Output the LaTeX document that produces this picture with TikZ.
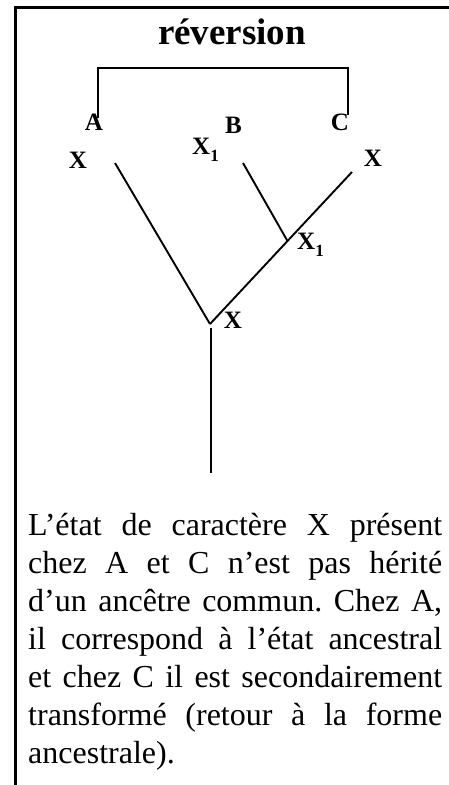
\documentclass[tikz,border=0pt]{standalone}
\usepackage{fontspec}
\setmainfont{Liberation Serif}
\tikzset{
  frameline/.style={line width=2.2pt, line cap=rect},
  branch/.style={line width=1.9pt},
  bracketline/.style={line width=2pt},
  lab/.style={font=\fontsize{25}{25}\selectfont\bfseries, inner sep=0pt},
}
\newcommand{\subone}{\raisebox{-0.28em}{\fontsize{17}{17}\selectfont\bfseries 1}}
\begin{document}
\begin{tikzpicture}[x=1pt,y=-1pt]
\useasboundingbox (0,0) rectangle (449,785);
% frame (top and left edges only)
\coordinate (ftr) at (449,7.5);
\coordinate (ftl) at (15.5,7.5);
\coordinate (fbl) at (15.5,785);
\draw[frameline] (ftr) -- (ftl) -- (fbl);
% title
\node[anchor=base, inner sep=0pt, font=\fontsize{37}{37}\selectfont\bfseries] (title) at (232,44) {réversion};
% taxon labels
\node[lab] (A) at (94,122) {A};
\node[lab] (B) at (233.5,125) {B};
\node[lab] (C) at (340,122) {C};
\node[lab] (XA) at (78,160) {X};
\node[lab, anchor=west] (XB) at (192,150) {X\subone};
\node[lab] (XC) at (373,158) {X};
\node[lab, anchor=west] (XJ) at (297,245) {X\subone};
\node[lab] (XR) at (233,320) {X};
% bracket linking A and C
\coordinate (ba) at (98,118);
\coordinate (bc) at (348,115);
\draw[bracketline] (ba) |- (348,68) -- (bc);
% tree
\coordinate (ta) at (115,163);
\coordinate (tb) at (243,163);
\coordinate (tc) at (352,172);
\coordinate (j1) at (287.5,241);
\coordinate (root) at (210,324);
\coordinate (stemtop) at (211,328);
\coordinate (stembot) at (211,473);
\draw[branch] (ta) -- (root);
\draw[branch] (tc) -- (j1) -- (root);
\draw[branch] (tb) -- (j1);
\draw[branch] (stemtop) -- (stembot);
% description
\node[anchor=base west, inner sep=0pt] (desc) at (28,535) {%
\begin{minipage}[t]{414pt}\fontsize{32}{38}\selectfont\parindent=0pt\frenchspacing
\makebox[\linewidth][s]{L’état de caractère X présent}\\
\makebox[\linewidth][s]{chez A et C n’est pas hérité}\\
\makebox[\linewidth][s]{d’un ancêtre commun. Chez A,}\\
\makebox[\linewidth][s]{il correspond à l’état ancestral}\\
\makebox[\linewidth][s]{et chez C il est secondairement}\\
\makebox[\linewidth][s]{transformé (retour à la forme}\\
ancestrale).
\end{minipage}};
\end{tikzpicture}
\end{document}
